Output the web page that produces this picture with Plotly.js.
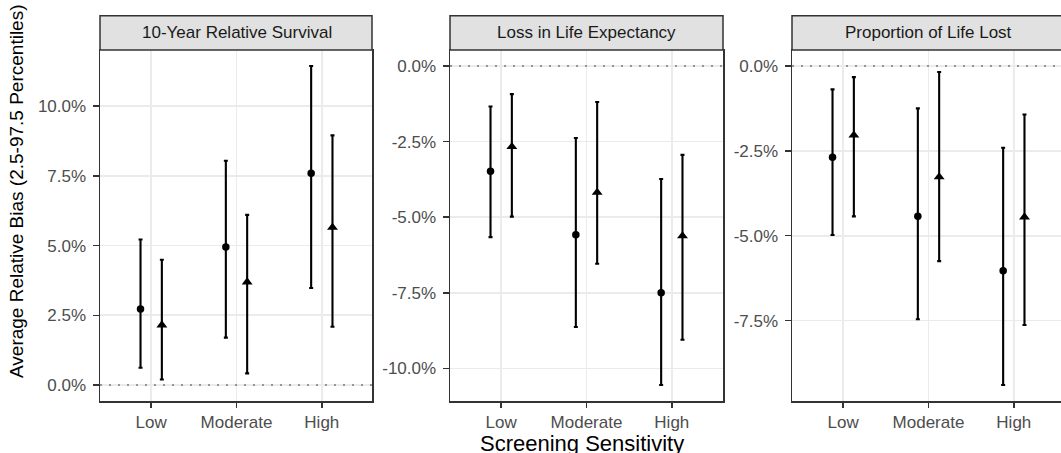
<!DOCTYPE html>
<html>
<head>
<meta charset="utf-8">
<script src="https://cdn.plot.ly/plotly-3.0.1.min.js"></script>
<style>html,body{margin:0;padding:0;background:#fff;}#chart{width:1061px;height:453px;}</style>
</head>
<body>
<div id="chart"></div>
<script>
// ---- data (percent) ----
const categories = ['Low', 'Moderate', 'High'];
const panelTitles = ['10-Year Relative Survival', 'Loss in Life Expectancy', 'Proportion of Life Lost'];
const seriesNames = ['Series 1', 'Series 2'];

// 10-Year Relative Survival
const survCircleMean  = [2.73, 4.95, 7.59];
const survCircleLower = [0.62, 1.70, 3.48];
const survCircleUpper = [5.22, 8.04, 11.44];
const survTriMean     = [2.15, 3.69, 5.65];
const survTriLower    = [0.20, 0.42, 2.09];
const survTriUpper    = [4.49, 6.10, 8.95];

// Loss in Life Expectancy
const lleCircleMean  = [-3.48, -5.58, -7.50];
const lleCircleLower = [-5.66, -8.63, -10.55];
const lleCircleUpper = [-1.34, -2.38, -3.74];
const lleTriMean     = [-2.67, -4.18, -5.62];
const lleTriLower    = [-4.98, -6.54, -9.05];
const lleTriUpper    = [-0.93, -1.19, -2.94];

// Proportion of Life Lost
const pllCircleMean  = [-2.69, -4.43, -6.03];
const pllCircleLower = [-4.98, -7.46, -9.40];
const pllCircleUpper = [-0.69, -1.25, -2.41];
const pllTriMean     = [-2.04, -3.27, -4.45];
const pllTriLower    = [-4.43, -5.75, -7.63];
const pllTriUpper    = [-0.33, -0.18, -1.43];

// tick labels
const survTickVals = [0, 2.5, 5, 7.5, 10];
const survTickText = ['0.0%', '2.5%', '5.0%', '7.5%', '10.0%'];
const lleTickVals = [-10, -7.5, -5, -2.5, 0];
const lleTickText = ['-10.0%', '-7.5%', '-5.0%', '-2.5%', '0.0%'];
const pllTickVals = [-7.5, -5, -2.5, 0];
const pllTickText = ['-7.5%', '-5.0%', '-2.5%', '0.0%'];

const yTitle = 'Average Relative Bias (2.5-97.5 Percentiles)';
const xTitle = 'Screening Sensitivity';

// ---- layout helpers ----
const W = 1061, H = 453;
const px = v => v / W;
const py = v => 1 - v / H;
const panelX = [[100, 372], [450, 723], [792, 1061]];
const fullPanelW = 273;
const plotTop = 50, plotBottom = 401, stripTop = 15.7;
const dodge = 0.125;
const catIdx = categories.map((c, i) => i);

const panels = [
  {cm: survCircleMean, cl: survCircleLower, cu: survCircleUpper, tm: survTriMean, tl: survTriLower, tu: survTriUpper,
   tv: survTickVals, tt: survTickText},
  {cm: lleCircleMean, cl: lleCircleLower, cu: lleCircleUpper, tm: lleTriMean, tl: lleTriLower, tu: lleTriUpper,
   tv: lleTickVals, tt: lleTickText},
  {cm: pllCircleMean, cl: pllCircleLower, cu: pllCircleUpper, tm: pllTriMean, tl: pllTriLower, tu: pllTriUpper,
   tv: pllTickVals, tt: pllTickText}
];

const traces = [];
const layout = {
  width: W, height: H,
  margin: {l: 0, r: 0, t: 0, b: 0},
  paper_bgcolor: '#fff', plot_bgcolor: '#fff',
  showlegend: false,
  font: {family: 'Liberation Sans, Arial, sans-serif', color: '#4D4D4D'},
  shapes: [], annotations: []
};

panels.forEach((p, k) => {
  const sfx = k === 0 ? '' : String(k + 1);
  const xa = 'x' + sfx, ya = 'y' + sfx;
  const mkErr = (m, lo, up) => ({
    type: 'data', symmetric: false,
    array: m.map((v, i) => up[i] - v),
    arrayminus: m.map((v, i) => v - lo[i]),
    color: '#000', thickness: 2.1, width: 2
  });
  traces.push({
    type: 'scatter', mode: 'markers', name: seriesNames[0], xaxis: xa, yaxis: ya,
    x: catIdx.map(i => i - dodge), y: p.cm,
    error_y: mkErr(p.cm, p.cl, p.cu),
    marker: {symbol: 'circle', size: 7.5, color: '#000'}
  });
  traces.push({
    type: 'scatter', mode: 'markers', name: seriesNames[1], xaxis: xa, yaxis: ya,
    x: catIdx.map(i => i + dodge), y: p.tm,
    error_y: mkErr(p.tm, p.tl, p.tu),
    marker: {symbol: 'triangle-up', size: 9.5, color: '#000'}
  });

  // y range: ggplot 5% expansion of data incl. 0 line
  const all = p.cl.concat(p.cu, p.tl, p.tu, [0]);
  const lo = Math.min(...all), hi = Math.max(...all), ex = (hi - lo) * 0.05;
  const [x0, x1] = panelX[k];
  const xr1 = -0.6 + 3.2 * (x1 - x0) / fullPanelW;
  const last = k === 2;

  layout['xaxis' + sfx] = {
    domain: [px(x0), px(x1)], anchor: ya, range: [-0.6, xr1],
    tickmode: 'array', tickvals: catIdx, ticktext: categories,
    showgrid: true, gridcolor: '#EBEBEB', gridwidth: 1.8,
    zeroline: false, showline: true, linecolor: '#333333', linewidth: 1.5, mirror: true,
    ticks: 'outside', ticklen: 5, tickwidth: 1.5, tickcolor: '#333333',
    tickfont: {size: 17, color: '#4D4D4D'}, fixedrange: true
  };
  layout['yaxis' + sfx] = {
    domain: [py(plotBottom), py(plotTop)], anchor: xa, range: [lo - ex, hi + ex],
    tickmode: 'array', tickvals: p.tv, ticktext: p.tt,
    showgrid: true, gridcolor: '#EBEBEB', gridwidth: 1.8,
    zeroline: false, showline: true, linecolor: '#333333', linewidth: 1.5, mirror: !last,
    ticks: 'outside', ticklen: 6, tickwidth: 1.5, tickcolor: '#333333',
    ticklabelstandoff: 3,
    tickfont: {size: 17, color: '#4D4D4D'}, fixedrange: true
  };

  // dotted zero line
  layout.shapes.push({
    type: 'line', xref: xa + ' domain', yref: ya, x0: 0, x1: 1, y0: 0, y1: 0,
    line: {color: '#7A7A7A', width: 1.4, dash: '2px,7px'}, layer: 'above'
  });
  // strip
  layout.shapes.push({
    type: 'rect', xref: 'paper', yref: 'paper',
    x0: px(x0), x1: last ? 1.01 : px(x1), y0: py(plotTop), y1: py(stripTop),
    fillcolor: '#E1E1E1', line: {color: '#333333', width: 1.5}, layer: 'above'
  });
  layout.annotations.push({
    text: panelTitles[k], xref: 'paper', yref: 'paper',
    x: px(x0 + fullPanelW / 2), y: py((plotTop + stripTop) / 2),
    xanchor: 'center', yanchor: 'middle', showarrow: false,
    font: {size: 17, color: '#1A1A1A'}
  });
});

layout.annotations.push({
  text: yTitle, xref: 'paper', yref: 'paper', x: px(17), y: py(191),
  xanchor: 'center', yanchor: 'middle', textangle: -90, showarrow: false,
  font: {size: 19, color: '#000'}
});
layout.annotations.push({
  text: xTitle, xref: 'paper', yref: 'paper', x: px(582), y: py(443),
  xanchor: 'center', yanchor: 'middle', showarrow: false,
  font: {size: 22, color: '#000'}
});

Plotly.newPlot('chart', traces, layout, {staticPlot: true, displayModeBar: false});
</script>
</body>
</html>
